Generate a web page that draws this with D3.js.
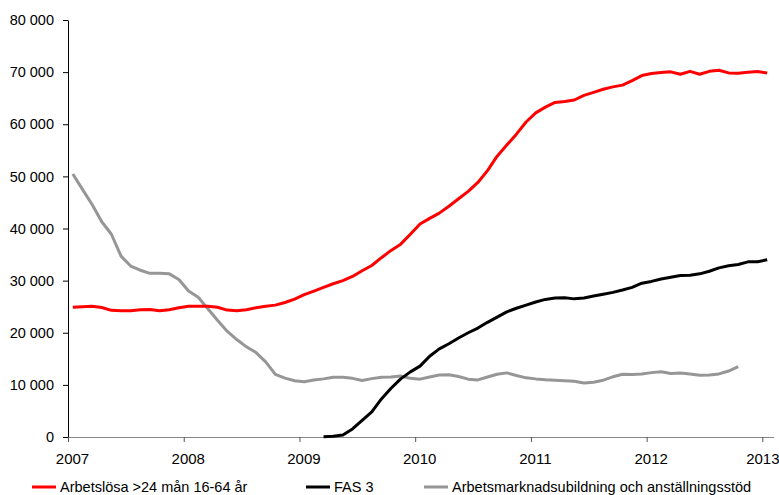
<!DOCTYPE html>
<html>
<head>
<meta charset="utf-8">
<script src="https://cdn.jsdelivr.net/npm/d3@7"></script>
<style>
  body { margin: 0; background: #fff; }
  svg text { font-family: "Liberation Sans", Arial, sans-serif; fill: #000; }
</style>
</head>
<body>
<div id="chart"></div>
<script>
// Monthly series, Jan 2007 .. Jan 2013 (73 months)
var years = ["2007", "2008", "2009", "2010", "2011", "2012", "2013"];

var longTermUnemployed = [
  24900, 25000, 25100, 24850, 24300, 24200, 24200, 24400, 24450, 24200, 24430, 24800,
  25100, 25100, 25100, 24900, 24350, 24200, 24400, 24800, 25100, 25300, 25800, 26450,
  27300, 28000, 28700, 29400, 30000, 30800, 31900, 32900, 34400, 35800, 37000, 38900,
  40850, 41950, 42950, 44280, 45700, 47120, 48830, 51100, 53880, 56000, 58100, 60430,
  62180, 63280, 64190, 64370, 64650, 65550, 66120, 66720, 67170, 67510, 68380, 69340,
  69740, 69930, 70050, 69600, 70150, 69600, 70150, 70350, 69850, 69800, 69960, 70110,
  69850
];

// FAS 3 starts in March 2009 (month index 26)
var fas3Start = 26;
var fas3 = [
  50, 150, 400, 1550, 3200, 4800, 7300, 9350, 11150, 12500,
  13600, 15500, 16900, 17900, 19000, 20000, 20900, 22000, 23000, 24000, 24700, 25300,
  25900, 26400, 26650, 26700, 26500, 26650, 27050, 27400, 27750, 28200, 28700, 29500,
  29850, 30300, 30650, 31000, 31050, 31300, 31800, 32450, 32850, 33100, 33600, 33620,
  34000
];

// Arbetsmarknadsutbildning och anställningsstöd, Jan 2007 .. Oct 2012
var trainingSupport = [
  50450, 47500, 44600, 41300, 38900, 34700, 32800, 32000, 31400, 31400, 31300, 30200,
  28000, 26800, 24600, 22400, 20300, 18700, 17300, 16200, 14400, 12000, 11300, 10800,
  10600, 10950, 11150, 11450, 11450, 11250, 10850, 11200, 11450, 11500, 11700, 11250,
  11100, 11500, 11900, 11950, 11600, 11100, 10950, 11500, 12050, 12300, 11800, 11350,
  11150, 11000, 10900, 10800, 10700, 10350, 10500, 10900, 11550, 12050, 12000, 12100,
  12350, 12500, 12200, 12300, 12100, 11850, 11900, 12100, 12650, 13500
];

var seriesNames = ["Arbetslösa >24 mån 16-64 år", "FAS 3", "Arbetsmarknadsubildning och anställningsstöd"];
var seriesColors = ["#ff0000", "#000000", "#969696"];

var width = 779, height = 495;
var numMonths = 73;

var svg = d3.select("#chart").append("svg")
  .attr("width", width)
  .attr("height", height);

var x = d3.scaleLinear().domain([0, numMonths]).range([68, 772]);
var y = d3.scaleLinear().domain([0, 80000]).range([437, 20]);

var spaceFormat = function(d) { return d3.format(",")(d).replace(/,/g, " "); };

// y axis
var yAxis = svg.append("g")
  .attr("transform", "translate(" + x(0) + ",0)")
  .call(d3.axisLeft(y)
    .tickValues(d3.range(0, 80001, 10000))
    .tickSize(5)
    .tickSizeOuter(0)
    .tickPadding(9)
    .tickFormat(spaceFormat));
yAxis.selectAll("text").style("font-size", "14.5px");
yAxis.select(".domain").attr("stroke", "#000");

// x axis (ticks at the year boundaries)
var xAxis = svg.append("g")
  .attr("transform", "translate(0," + y(0) + ")")
  .call(d3.axisBottom(x)
    .tickValues(d3.range(0, numMonths, 12))
    .tickSize(5)
    .tickSizeOuter(0)
    .tickPadding(11)
    .tickFormat(function(d, i) { return years[i]; }));
xAxis.select(".domain")
  .attr("stroke", "#868686")
  .attr("d", "M" + x(0) + ",0.5H" + (x(numMonths) + 2));
xAxis.selectAll(".tick line").attr("stroke", "#555");
xAxis.selectAll("text")
  .attr("dx", function(d, i) { return i === years.length - 1 ? 0 : 4; })
  .style("font-size", "15px");

var line = d3.line()
  .x(function(d) { return x(d.i + 0.5); })
  .y(function(d) { return y(d.v); });

var toPoints = function(values, offset) {
  return values.map(function(v, k) { return { i: k + offset, v: v }; });
};

var seriesData = [
  toPoints(longTermUnemployed, 0),
  toPoints(fas3, fas3Start),
  toPoints(trainingSupport, 0)
];

// draw gray first, then black, red on top
[2, 1, 0].forEach(function(s) {
  svg.append("path")
    .datum(seriesData[s])
    .attr("d", line)
    .attr("fill", "none")
    .attr("stroke", seriesColors[s])
    .attr("stroke-width", 3)
    .attr("stroke-linejoin", "round");
});

// legend
var legendX = [32, 306, 424];
var legend = svg.append("g").attr("transform", "translate(0,487)");
seriesNames.forEach(function(name, s) {
  legend.append("line")
    .attr("x1", legendX[s])
    .attr("x2", legendX[s] + 24)
    .attr("y1", 0)
    .attr("y2", 0)
    .attr("stroke", seriesColors[s])
    .attr("stroke-width", 3);
  legend.append("text")
    .attr("x", legendX[s] + 28)
    .attr("y", 5)
    .style("font-size", "14.5px")
    .text(name);
});
</script>
</body>
</html>
